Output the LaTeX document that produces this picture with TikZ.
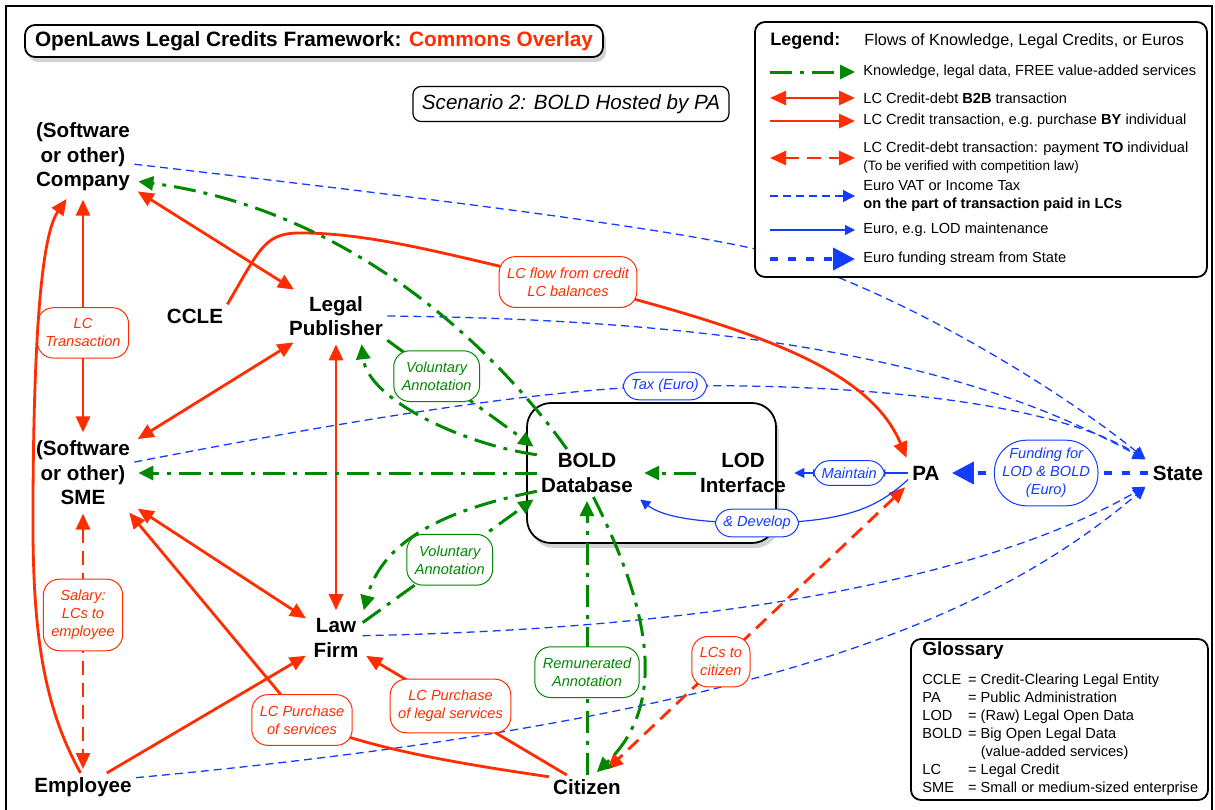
\documentclass[tikz,border=0pt]{standalone}
\usepackage{fontspec}
\setmainfont{Liberation Sans}
\usetikzlibrary{arrows.meta,shadows}
\definecolor{lcred}{RGB}{255,45,0}
\definecolor{knowgreen}{RGB}{0,136,0}
\definecolor{eurblue}{RGB}{20,60,255}
\newcommand{\actorfont}{\bfseries\fontsize{10.3}{12.3}\selectfont}
\newcommand{\lblfont}{\itshape\fontsize{7.3}{9}\selectfont}
\newcommand{\legfont}{\fontsize{7.3}{9}\selectfont}

\begin{document}
\begin{tikzpicture}[x=0.5pt,y=-0.5pt,
    actor/.style={font=\actorfont,align=center,inner sep=2pt},
    lbl/.style={draw,solid,fill=white,rounded corners=8pt,font=\lblfont,align=center,inner xsep=4pt,inner ysep=5.5pt,line width=0.5pt},
    oneline/.style={inner ysep=3.5pt},
    redlbl/.style={lbl,draw=lcred,text=lcred},
    grnlbl/.style={lbl,draw=knowgreen,text=knowgreen},
    bluelbl/.style={lbl,draw=eurblue,text=eurblue},
    b2b/.style={lcred,line width=1.4pt,{Triangle[length=8pt,width=7pt]}-{Triangle[length=8pt,width=7pt]},shorten <=2pt,shorten >=2pt},
    buy/.style={lcred,line width=1.4pt,-{Triangle[length=8pt,width=7pt]},shorten >=2pt},
    pay/.style={b2b,dash pattern=on 7pt off 4pt},
    know/.style={knowgreen,line width=1.5pt,dash pattern=on 11pt off 4pt on 2pt off 4pt,-{Triangle[length=7.5pt,width=7pt]},shorten >=2pt},
    tax/.style={eurblue,line width=0.65pt,dash pattern=on 4pt off 2.5pt,-{Triangle[length=6pt,width=6pt]},shorten >=2pt},
    euro/.style={eurblue,line width=0.6pt,-{Triangle[length=5pt,width=5pt]},shorten >=2pt},
    fund/.style={eurblue,line width=2pt,dash pattern=on 4pt off 5pt,-{Triangle[length=11pt,width=11pt]},shorten >=4pt},
    panel/.style={draw,line width=0.9pt,fill=white,rounded corners=5pt},
    legtext/.style={anchor=west,inner sep=0pt,font=\legfont,align=left}]

\useasboundingbox (0,0) rectangle (1215,809);
\draw[line width=1pt] (6,820) -- (6,6) -- (1212,6) -- (1212,820);

\node[panel,drop shadow={shadow xshift=1.5pt,shadow yshift=-2.5pt,opacity=0.35},font=\bfseries\fontsize{10.4}{12}\selectfont,minimum width=289pt,minimum height=16pt,inner sep=2pt] (title) at (314,41) {OpenLaws Legal Credits Framework: \textcolor{lcred}{Commons Overlay}};
\node[draw,line width=0.6pt,rounded corners=4pt,font=\itshape\fontsize{10.3}{12}\selectfont,minimum width=158pt,minimum height=17.5pt] (scen) at (571,104) {Scenario 2: BOLD Hosted by PA};

\node[panel,drop shadow={shadow xshift=1.5pt,shadow yshift=-2.5pt,opacity=0.35},rounded corners=12pt,minimum width=124.5pt,minimum height=70pt] (host) at (651.5,473) {};

\node[actor] (company) at (83,157) {(Software\\or other)\\Company};
\node[actor] (ccle) at (195,316) {CCLE};
\node[actor] (pub) at (336,316) {Legal\\Publisher};
\node[actor] (sme) at (83,473) {(Software\\or other)\\SME};
\node[actor] (law) at (336,638) {Law\\Firm};
\node[actor] (emp) at (83,787) {Employee};
\node[actor] (cit) at (587,787) {Citizen};
\node[actor] (bold) at (587,473) {BOLD\\Database};
\node[actor] (lod) at (743,473) {LOD\\Interface};
\node[actor] (pa) at (926,473) {PA};
\node[actor] (state) at (1178,473) {State};

\draw[tax] (company.-8) .. controls (400,195) and (650,225) .. (760,250) .. controls (900,290) and (1060,390) .. (state.north west);
\draw[tax] (pub.east) .. controls (800,320) and (1000,380) .. (state.north west);
\draw[tax] (sme.12) .. controls (300,430) and (520,390) .. (665,386) node[bluelbl,oneline] (taxlbl) {Tax (Euro)} .. controls (850,383) and (1050,400) .. (state.north west);
\draw[tax] (law.5) .. controls (750,628) and (1000,570) .. (state.south west);
\draw[tax] (emp.10) .. controls (780,718) and (1000,610) .. (state.south west);

\draw[b2b] (company) -- node[redlbl,pos=.57] (lctx) {LC\\Transaction} (sme);
\draw[b2b] (company) -- (pub);
\draw[b2b] (sme) -- (pub);
\draw[b2b] (sme) -- (law);
\draw[b2b] (pub) -- (law);

\draw[buy] (emp.100) .. controls (40,700) and (32,620) .. (33,500) .. controls (34,300) and (45,230) .. (company.-110);
\draw[buy] (emp) -- (law);
\draw[buy] (cit.165) .. controls (470,765) and (370,750) .. (302,720) node[redlbl] (lps) {LC Purchase\\of services} -- (sme.-40);
\draw[buy] (cit) -- node[redlbl,pos=.57] (lpl) {LC Purchase\\of legal services} (law);
\draw[buy] (ccle.north east) .. controls (262,245) and (265,232) .. (305,233) .. controls (380,234) and (460,258) .. (568,282) node[redlbl] (flow) {LC flow from credit\\LC balances} .. controls (760,330) and (870,370) .. (pa.north west);

\draw[pay] (sme) -- node[redlbl,pos=.4] (salary) {Salary:\\LCs to\\employee} (emp);
\draw[pay,shorten >=4pt] (pa.south west) -- node[redlbl,pos=.61] (lcc) {LCs to\\citizen} (cit.40);

\draw[know] (bold.130) .. controls (485,335) and (340,208) .. (company.-25);
\draw[know] (bold) -- (sme);
\draw[know] (pub.south east) -- node[grnlbl,pos=.33] (vol1) {Voluntary\\Annotation} (bold.north west);
\draw[know] (bold.160) .. controls (465,445) and (368,400) .. (pub.-44);
\draw[know] (bold.200) .. controls (470,505) and (385,530) .. (law.north east);
\draw[know] (law.30) -- node[grnlbl,pos=.5] (vol2) {Voluntary\\Annotation} (bold.south west);
\draw[know] (cit) -- node[grnlbl,pos=.37] (remun) {Remunerated\\Annotation} (bold);
\draw[know] (bold.-75) .. controls (645,600) and (672,700) .. (cit.60);
\draw[know,shorten >=3.5pt] (lod) -- (bold);

\draw[euro] (pa) -- node[bluelbl,oneline] (maint) {Maintain} (lod);
\draw[euro] (pa.-160) .. controls (880,505) and (850,523) .. (757,523) node[bluelbl,oneline] (dev) {\& Develop} .. controls (690,523) and (660,515) .. (bold.south east);
\draw[fund] (state) -- node[bluelbl,rounded corners=16pt,inner ysep=4pt] (funding) {Funding for\\LOD \& BOLD\\(Euro)} (pa);

\node[panel,minimum width=226pt,minimum height=127.5pt] (legend) at (981,149.5) {};
\node[anchor=west,inner sep=0pt,font=\bfseries\fontsize{9}{11}\selectfont] (leghead) at (770,41) {Legend:};
\node[anchor=west,inner sep=0pt,font=\fontsize{8.1}{10}\selectfont] (legsub) at (864,41) {Flows of Knowledge, Legal Credits, or Euros};
\foreach \y/\kind [count=\i] in {72/know,98/b2b,121/buy,158/pay,196/tax,230/euro,259/fund}{
    \coordinate (s\i) at (770,\y);
    \coordinate (e\i) at (855,\y);
    \draw[\kind,shorten >=0pt,shorten <=0pt] (s\i) -- (e\i);
}
\node[legtext] (k1) at (863,72) {Knowledge, legal data, FREE value-added services};
\node[legtext] (k2) at (863,98) {LC Credit-debt \textbf{B2B} transaction};
\node[legtext] (k3) at (863,121) {LC Credit transaction, e.g.\ purchase \textbf{BY} individual};
\node[legtext] (k4) at (863,157.5) {LC Credit-debt transaction: payment \textbf{TO} individual\\{\fontsize{6.8}{8}\selectfont(To be verified with competition law)}};
\node[legtext] (k5) at (863,195.5) {Euro VAT or Income Tax\\\textbf{on the part of transaction paid in LCs}};
\node[legtext] (k6) at (863,230) {Euro, e.g.\ LOD maintenance};
\node[legtext] (k7) at (863,259) {Euro funding stream from State};

\node[panel,minimum width=148.5pt,minimum height=80.5pt] (gloss) at (1059.5,719.5) {};
\node[anchor=west,inner sep=0pt,font=\bfseries\fontsize{9.5}{11}\selectfont] (glosshead) at (922,651) {Glossary};
\node[anchor=north west,inner sep=0pt,font=\legfont] (glosslist) at (922,671) {%
    \begin{tabular}{@{}l@{\hspace{3pt}}l@{}}
    CCLE & = Credit-Clearing Legal Entity\\
    PA & = Public Administration\\
    LOD & = (Raw) Legal Open Data\\
    BOLD & = Big Open Legal Data\\
     & \phantom{= }(value-added services)\\
    LC & = Legal Credit\\
    SME & = Small or medium-sized enterprise
    \end{tabular}};
\end{tikzpicture}
\end{document}
